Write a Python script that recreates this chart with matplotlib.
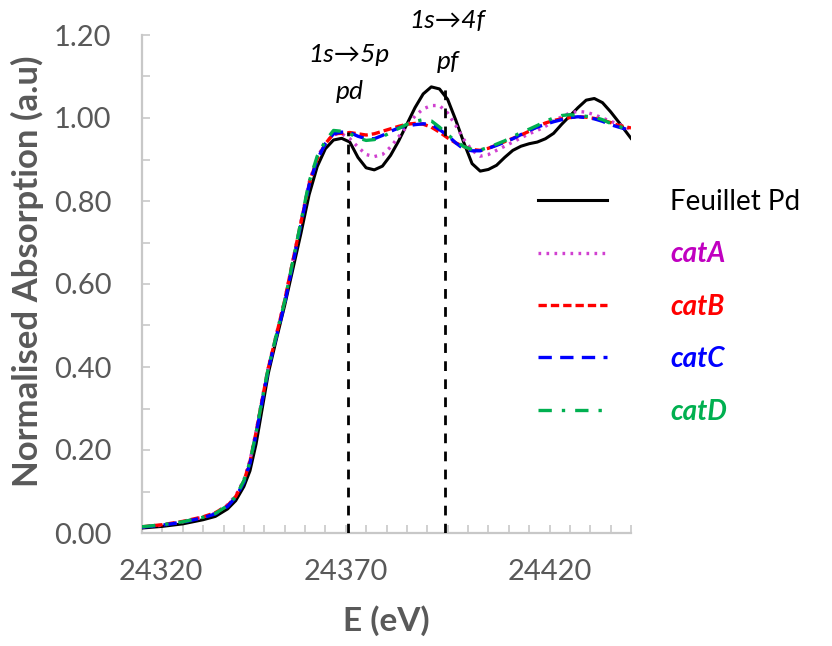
import matplotlib
matplotlib.use("Agg")
import matplotlib.pyplot as plt
from matplotlib.ticker import MultipleLocator, FixedLocator
from matplotlib.transforms import ScaledTranslation

plt.rcParams['font.family'] = ['Lato', 'DejaVu Sans']

# énergie (eV)
energie = [24320, 24325, 24330, 24335, 24338, 24341, 24343, 24345, 24346.5, 24348,
           24349.5, 24351, 24353, 24355, 24357, 24359, 24361, 24363, 24365, 24367,
           24369, 24371, 24373, 24375, 24377, 24379, 24381, 24383, 24385, 24387,
           24389, 24391, 24393, 24395, 24397, 24399, 24401, 24403, 24405, 24407,
           24409, 24411, 24413, 24415, 24417, 24419, 24421, 24423, 24425, 24427,
           24429, 24431, 24433, 24435, 24437, 24440]

feuillet_pd = [0.012, 0.016, 0.022, 0.032, 0.040, 0.058, 0.078, 0.112, 0.150, 0.215,
               0.300, 0.385, 0.468, 0.548, 0.635, 0.722, 0.815, 0.883, 0.926, 0.947,
               0.951, 0.942, 0.905, 0.880, 0.875, 0.884, 0.910, 0.945, 0.985, 1.025,
               1.058, 1.075, 1.070, 1.045, 0.995, 0.940, 0.890, 0.872, 0.876, 0.886,
               0.905, 0.922, 0.932, 0.938, 0.942, 0.950, 0.963, 0.985, 1.005, 1.025,
               1.043, 1.047, 1.037, 1.015, 0.990, 0.951]

cat_a = [0.014, 0.019, 0.027, 0.038, 0.048, 0.068, 0.090, 0.128, 0.175, 0.245,
         0.325, 0.400, 0.480, 0.560, 0.655, 0.750, 0.845, 0.905, 0.940, 0.960,
         0.962, 0.950, 0.930, 0.912, 0.907, 0.912, 0.930, 0.955, 0.980, 1.005,
         1.022, 1.030, 1.030, 1.012, 0.982, 0.948, 0.922, 0.908, 0.912, 0.922,
         0.932, 0.942, 0.952, 0.962, 0.970, 0.980, 0.993, 1.003, 1.012, 1.016,
         1.014, 1.008, 1.000, 0.992, 0.985, 0.972]

cat_b = [0.015, 0.020, 0.028, 0.039, 0.049, 0.066, 0.088, 0.125, 0.172, 0.243,
         0.322, 0.398, 0.478, 0.560, 0.655, 0.748, 0.840, 0.902, 0.938, 0.962,
         0.963, 0.965, 0.962, 0.959, 0.962, 0.968, 0.974, 0.980, 0.985, 0.987,
         0.985, 0.978, 0.966, 0.952, 0.940, 0.931, 0.924, 0.922, 0.927, 0.935,
         0.943, 0.951, 0.959, 0.968, 0.980, 0.988, 0.994, 0.998, 1.001, 1.003,
         1.002, 0.999, 0.995, 0.989, 0.982, 0.976]

cat_c = [0.014, 0.019, 0.026, 0.037, 0.046, 0.064, 0.086, 0.122, 0.168, 0.238,
         0.318, 0.394, 0.474, 0.552, 0.648, 0.744, 0.838, 0.900, 0.938, 0.962,
         0.966, 0.965, 0.956, 0.950, 0.950, 0.958, 0.968, 0.976, 0.981, 0.984,
         0.986, 0.985, 0.972, 0.958, 0.940, 0.925, 0.921, 0.921, 0.927, 0.934,
         0.942, 0.950, 0.960, 0.970, 0.978, 0.985, 0.991, 0.996, 1.001, 1.003,
         1.001, 0.998, 0.992, 0.984, 0.978, 0.970]

cat_d = [0.015, 0.020, 0.027, 0.038, 0.047, 0.066, 0.088, 0.126, 0.172, 0.242,
         0.322, 0.398, 0.478, 0.558, 0.654, 0.750, 0.846, 0.908, 0.945, 0.970,
         0.968, 0.962, 0.952, 0.946, 0.948, 0.955, 0.965, 0.975, 0.985, 0.992,
         0.996, 0.993, 0.978, 0.960, 0.944, 0.931, 0.924, 0.923, 0.929, 0.937,
         0.945, 0.955, 0.965, 0.973, 0.982, 0.992, 1.000, 1.006, 1.008, 1.006,
         1.004, 1.002, 0.996, 0.987, 0.980, 0.970]

# transitions marquées
transitions_e = [24370.6, 24394.3]
transitions_h = [0.966, 1.075]

gris = '#595959'

fig = plt.figure(figsize=(8.32, 6.46), dpi=100)
ax = fig.add_axes([142 / 832, 113 / 646, 489 / 832, 498 / 646])

ax.plot(energie, feuillet_pd, color='black', lw=2.2, label='Feuillet Pd', zorder=3)
ax.plot(energie, cat_a, color='#D040D0', lw=2.4, linestyle=(0, (0.8, 1.6)),
        label='catA', zorder=4)
ax.plot(energie, cat_b, color='#FF0000', lw=2.4, linestyle=(0, (2.5, 1.2)),
        label='catB', zorder=5)
ax.plot(energie, cat_c, color='#0000FF', lw=2.4, linestyle=(0, (4, 2.5)),
        label='catC', zorder=6)
ax.plot(energie, cat_d, color='#00B050', lw=2.4, linestyle=(0, (4, 3, 1, 3)),
        label='catD', zorder=7)

ax.vlines(transitions_e, 0, transitions_h, colors='black', lw=2,
          linestyles=(0, (3.5, 3)), zorder=8)

# annotations
ax.text(24370.7, 1.152, '1s→5p', style='italic', fontsize=19, ha='center', va='center')
ax.text(24370.9, 1.063, 'pd', style='italic', fontsize=19, ha='center', va='center')
ax.text(24395, 1.236, '1s→4f', style='italic', fontsize=19, ha='center', va='center',
        clip_on=False)
ax.text(24395, 1.135, 'pf', style='italic', fontsize=19, ha='center', va='center')

ax.set_xlim(24320, 24440)
ax.set_ylim(0, 1.2)
ax.xaxis.set_major_locator(FixedLocator([24320, 24370, 24420]))
ax.xaxis.set_minor_locator(MultipleLocator(5))
ax.yaxis.set_major_locator(MultipleLocator(0.2))
ax.yaxis.set_minor_locator(MultipleLocator(0.1))
ax.yaxis.set_major_formatter(plt.FuncFormatter(lambda v, p: f"{v:.2f}"))

for s in ['top', 'right']:
    ax.spines[s].set_visible(False)
for s in ['left', 'bottom']:
    ax.spines[s].set_color('#C8C8C8')
    ax.spines[s].set_linewidth(1.6)
ax.tick_params(which='both', direction='in', color='#C8C8C8', width=1.2,
               labelsize=21, labelcolor=gris, length=6)
ax.tick_params(axis='y', pad=22)
ax.tick_params(axis='x', pad=19)

# premier label décalé comme dans Excel
lbl0 = ax.get_xticklabels()[0]
lbl0.set_transform(lbl0.get_transform() + ScaledTranslation(0.19, 0, fig.dpi_scale_trans))

ax.set_xlabel('E (eV)', fontsize=24, fontweight='bold', color=gris, labelpad=14)
ax.set_ylabel('Normalised Absorption (a.u)', fontsize=25, fontweight='bold', color=gris)
ax.yaxis.set_label_coords(-0.2, 0.525)

leg = fig.legend(loc='upper left', bbox_to_anchor=(538 / 832, 1 - 189 / 646),
                 frameon=False, fontsize=20, handlelength=2.5, handletextpad=2.25,
                 labelspacing=0.95, borderpad=0, borderaxespad=0)
couleurs = ['black', '#C000C0', '#FF0000', '#0000FF', '#00B050']
for i, t in enumerate(leg.get_texts()):
    t.set_color(couleurs[i])
    if i > 0:
        t.set_fontweight('bold')
        t.set_fontstyle('italic')

fig.savefig('out.png', dpi=100)
